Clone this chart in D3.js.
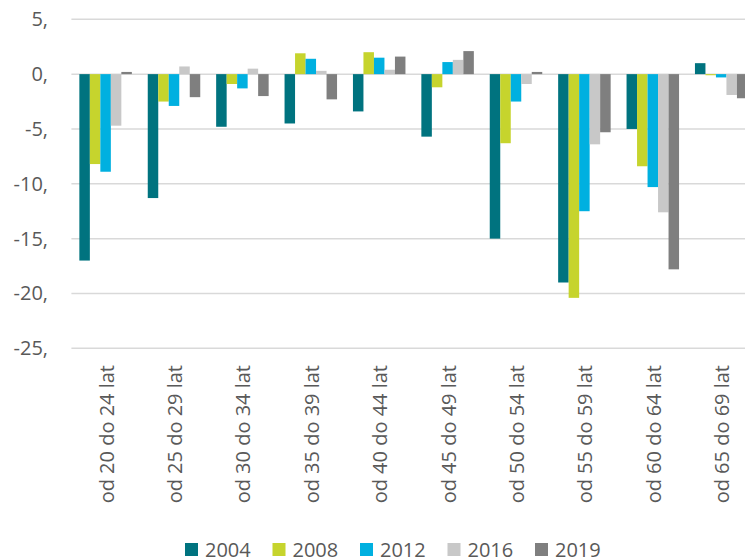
<!DOCTYPE html>
<html>
<head>
<meta charset="utf-8">
<script src="https://cdn.jsdelivr.net/npm/d3@7/dist/d3.min.js"></script>
<style>
  html, body { margin: 0; padding: 0; background: #fff; }
  svg { display: block; font-family: "Open Sans", sans-serif; }
</style>
</head>
<body>
<svg id="chart" width="745" height="558"></svg>
<script>
// age groups and change per survey year (percentage points)
const categories = [
  "od 20 do 24 lat", "od 25 do 29 lat", "od 30 do 34 lat", "od 35 do 39 lat",
  "od 40 do 44 lat", "od 45 do 49 lat", "od 50 do 54 lat", "od 55 do 59 lat",
  "od 60 do 64 lat", "od 65 do 69 lat"
];
const years = ["2004", "2008", "2012", "2016", "2019"];
const v2004 = [-17.0, -11.3, -4.8, -4.5, -3.4, -5.7, -15.0, -19.0, -5.0, 1.0];
const v2008 = [-8.2, -2.5, -0.9, 1.9, 2.0, -1.2, -6.3, -20.4, -8.4, -0.1];
const v2012 = [-8.9, -2.9, -1.3, 1.4, 1.5, 1.1, -2.5, -12.5, -10.3, -0.3];
const v2016 = [-4.7, 0.7, 0.5, 0.3, 0.4, 1.3, -0.9, -6.4, -12.6, -1.9];
const v2019 = [0.2, -2.1, -2.0, -2.3, 1.6, 2.1, 0.2, -5.3, -17.8, -2.2];
const yTicks = [5, 0, -5, -10, -15, -20, -25];
const colors = ["#00737f", "#c6d42d", "#00b0e0", "#c8c8c8", "#7f7f7f"];

const seriesValues = [v2004, v2008, v2012, v2016, v2019];
const rows = categories.map((c, i) => ({
  cat: c,
  vals: years.map((y, j) => ({ year: y, value: seriesValues[j][i] }))
}));

const svg = d3.select("#chart");
const textColor = "#595959";

const y = d3.scaleLinear().domain([-25, 5]).range([348.3, 19.3]);
const x0 = d3.scaleBand()
  .domain(categories)
  .range([71.4, 755.4])
  .paddingInner(0.2325)
  .paddingOuter(0.11625);
const x1 = d3.scaleBand().domain(years).range([0, x0.bandwidth()]);
const color = d3.scaleOrdinal().domain(years).range(colors);

// gridlines
svg.append("g")
  .selectAll("line")
  .data(yTicks)
  .join("line")
  .attr("x1", 71.4)
  .attr("x2", 745)
  .attr("y1", d => y(d))
  .attr("y2", d => y(d))
  .attr("stroke", "#d9d9d9")
  .attr("stroke-width", 1.5);

// y labels (Polish decimal style with trailing comma)
svg.append("g")
  .selectAll("text")
  .data(yTicks)
  .join("text")
  .attr("x", 48)
  .attr("y", d => y(d))
  .attr("dy", "0.35em")
  .attr("text-anchor", "end")
  .attr("fill", textColor)
  .attr("font-size", 20)
  .text(d => d + ",");

// bars
const groups = svg.append("g")
  .selectAll("g")
  .data(rows)
  .join("g")
  .attr("transform", d => `translate(${x0(d.cat)},0)`);

groups.selectAll("rect")
  .data(d => d.vals)
  .join("rect")
  .attr("x", d => x1(d.year))
  .attr("width", x1.bandwidth())
  .attr("y", d => y(Math.max(0, d.value)))
  .attr("height", d => Math.abs(y(d.value) - y(0)))
  .attr("fill", d => color(d.year));

// category labels, rotated
svg.append("g")
  .selectAll("text")
  .data(categories)
  .join("text")
  .attr("transform", d => `translate(${x0(d) + x0.bandwidth() / 2 + 1},365) rotate(-90)`)
  .attr("dy", "0.35em")
  .attr("text-anchor", "end")
  .attr("fill", textColor)
  .attr("font-size", 20)
  .text(d => d);

// legend
const legend = svg.append("g")
  .selectAll("g")
  .data(years)
  .join("g")
  .attr("transform", (d, i) => `translate(${185 + i * 87.5},543)`);

legend.append("rect")
  .attr("width", 13)
  .attr("height", 13)
  .attr("fill", d => color(d));

legend.append("text")
  .attr("x", 20)
  .attr("y", 6.5)
  .attr("dy", "0.35em")
  .attr("fill", textColor)
  .attr("font-size", 20)
  .text(d => d);
</script>
</body>
</html>
